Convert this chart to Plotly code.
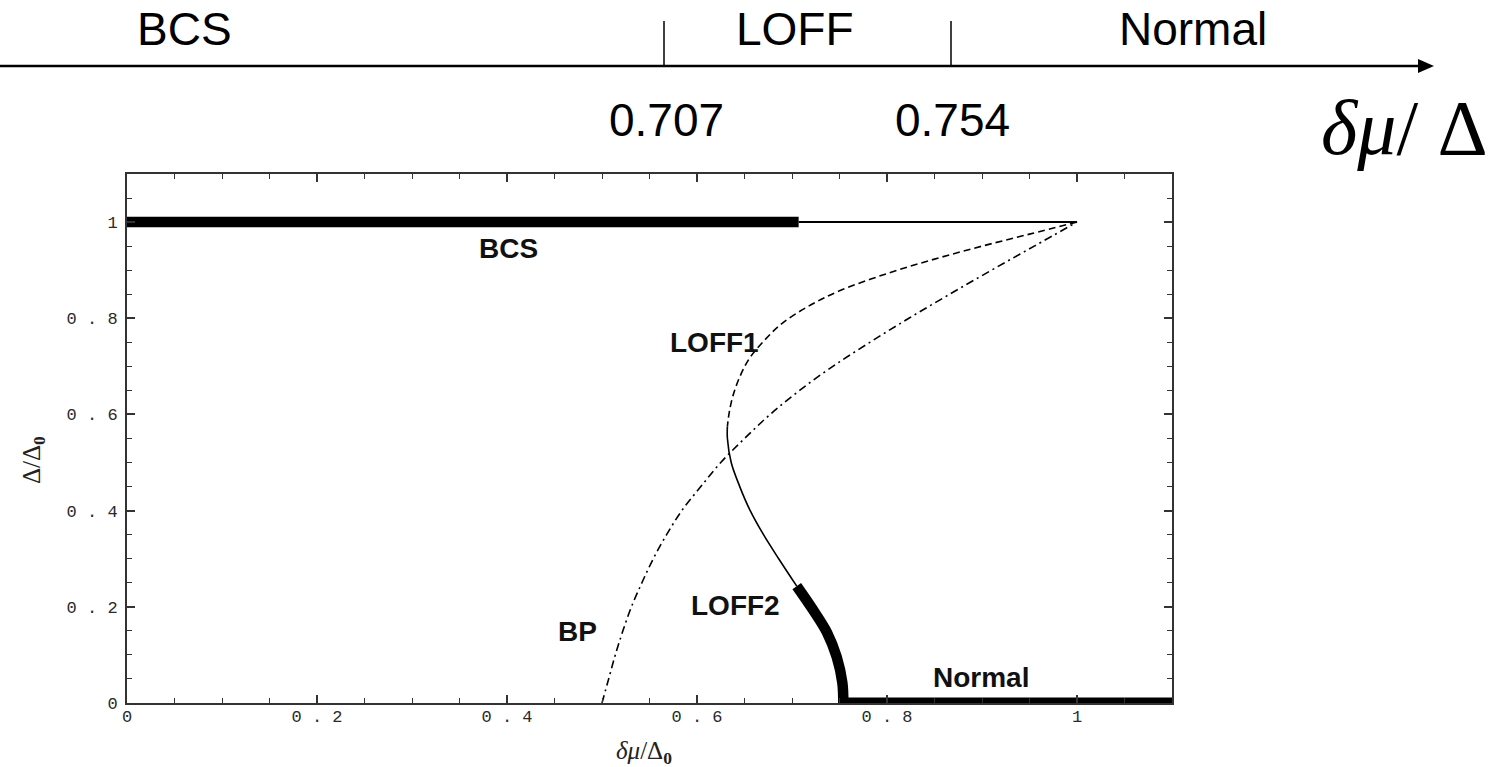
import plotly.graph_objects as go

# ---------------- data ----------------
bcs_stable_x = [0.0, 0.707]
bcs_stable_y = [1.0, 1.0]
bcs_unstable_x = [0.707, 1.0]
bcs_unstable_y = [1.0, 1.0]

loff1_x = [1.0, 0.95, 0.90, 0.85, 0.80, 0.75, 0.72, 0.69, 0.67, 0.655, 0.645, 0.638, 0.634, 0.632]
loff1_y = [1.0, 0.975, 0.950, 0.923, 0.893, 0.857, 0.828, 0.790, 0.752, 0.716, 0.678, 0.640, 0.605, 0.575]

loff2_unstable_x = [0.632, 0.632, 0.636, 0.645, 0.656, 0.670, 0.686, 0.705]
loff2_unstable_y = [0.575, 0.550, 0.500, 0.450, 0.400, 0.350, 0.300, 0.243]
loff2_stable_x = [0.705, 0.722, 0.737, 0.747, 0.753, 0.754]
loff2_stable_y = [0.243, 0.194, 0.146, 0.096, 0.042, 0.0]

bp_x = [0.500, 0.507, 0.514, 0.522, 0.531, 0.542, 0.554, 0.568, 0.584, 0.604, 0.625,
        0.650, 0.677, 0.708, 0.743, 0.782, 0.823, 0.866, 0.910, 0.955, 1.0]
bp_y = [0.00, 0.05, 0.10, 0.15, 0.20, 0.25, 0.30, 0.35, 0.40, 0.45, 0.50,
        0.55, 0.60, 0.65, 0.70, 0.75, 0.80, 0.85, 0.90, 0.95, 1.0]

normal_x = [0.754, 1.1]
normal_y = [0.0, 0.0]

curve_labels = ["BCS", "LOFF1", "LOFF2", "BP", "Normal"]
curve_label_x = [0.402, 0.618, 0.641, 0.474, 0.899]
curve_label_y = [0.946, 0.750, 0.202, 0.148, 0.052]

tick_vals = [0, 0.2, 0.4, 0.6, 0.8, 1.0]
tick_text = ["0", "0 . 2", "0 . 4", "0 . 6", "0 . 8", "1"]

# schematic phase line at the top
phase_names = ["BCS", "LOFF", "Normal"]
phase_bounds = ["0.707", "0.754"]

# ---------------- figure ----------------
W, H = 1499, 767
L, R, T, B = 127, 327, 174, 64
PW, PH = W - L - R, H - T - B


def px(xp):
    return (xp - L) / PW


def py(yp):
    return (H - B - yp) / PH


fig = go.Figure()


def add_line(x, y, width, dash="solid"):
    fig.add_trace(go.Scatter(x=x, y=y, mode="lines", showlegend=False, hoverinfo="skip",
                             line=dict(color="black", width=width, dash=dash,
                                       shape="spline", smoothing=1.0)))


add_line(bcs_unstable_x, bcs_unstable_y, 2)
add_line(bcs_stable_x, bcs_stable_y, 10.5)
add_line(loff1_x, loff1_y, 1.6, "7px,4px")
add_line(bp_x, bp_y, 1.6, "8px,4px,2px,4px")
add_line(loff2_unstable_x, loff2_unstable_y, 1.6)
add_line(loff2_stable_x, loff2_stable_y, 10.5)
add_line(normal_x, normal_y, 11)

for t, xv, yv in zip(curve_labels, curve_label_x, curve_label_y):
    fig.add_annotation(x=xv, y=yv, xref="x", yref="y", text=f"<b>{t}</b>", showarrow=False,
                       xanchor="center", yanchor="middle",
                       font=dict(family="Liberation Sans, Arial", size=28, color="#111"))

# axis titles
fig.add_annotation(x=px(644), y=py(752), xref="paper", yref="paper", showarrow=False,
                   xanchor="center", yanchor="middle",
                   text="<i>δμ</i>/Δ<sub><b>0</b></sub>",
                   font=dict(family="Liberation Serif, Times New Roman", size=25, color="#222"))
fig.add_annotation(x=px(33), y=py(460), xref="paper", yref="paper", showarrow=False, textangle=-90,
                   xanchor="center", yanchor="middle",
                   text="Δ/Δ<sub><b>0</b></sub>",
                   font=dict(family="Liberation Serif, Times New Roman", size=25, color="#222"))

# top schematic arrow
arrow_y = py(66)
fig.add_shape(type="line", xref="paper", yref="paper", x0=px(0), x1=px(1422), y0=arrow_y, y1=arrow_y,
              line=dict(color="black", width=2.5))
fig.add_shape(type="path", xref="paper", yref="paper", fillcolor="black", line=dict(width=0),
              path=f"M {px(1418)} {py(59)} L {px(1434)} {py(66)} L {px(1418)} {py(73)} Z")
for xb in (664, 951):
    fig.add_shape(type="line", xref="paper", yref="paper", x0=px(xb), x1=px(xb), y0=py(21), y1=arrow_y,
                  line=dict(color="black", width=1.5))

top_font = dict(family="Liberation Sans, Arial", size=46, color="black")
for name, xc in zip(phase_names, (184, 795, 1193)):
    fig.add_annotation(x=px(xc), y=py(29), xref="paper", yref="paper", text=name, showarrow=False,
                       xanchor="center", yanchor="middle", font=top_font)
for val, xc in zip(phase_bounds, (666, 952)):
    fig.add_annotation(x=px(xc), y=py(120), xref="paper", yref="paper", text=val, showarrow=False,
                       xanchor="center", yanchor="middle", font=top_font)
fig.add_annotation(x=px(1490), y=py(127), xref="paper", yref="paper", xanchor="right", yanchor="middle",
                   showarrow=False, text="<i>δμ</i>/\u00a0Δ",
                   font=dict(family="Liberation Serif, Times New Roman", size=78, color="black"))

axis_common = dict(
    showgrid=False, zeroline=False, showline=True, linecolor="#333", linewidth=2,
    mirror="ticks", ticks="inside", ticklen=8, tickwidth=1.5, tickcolor="#333",
    tickfont=dict(family="Liberation Mono, Courier New", size=17, color="#2a2a2a"),
    minor=dict(ticks="inside", ticklen=5, tickwidth=1.2, tickcolor="#333", dtick=0.05, tick0=0),
    tickmode="array", tickvals=tick_vals, ticktext=tick_text,
)
fig.update_xaxes(range=[0, 1.1], ticklabelstandoff=-3, **axis_common)
fig.update_yaxes(range=[0, 1.1], ticklabelstandoff=4, **axis_common)

fig.update_layout(
    width=W, height=H, margin=dict(l=L, r=R, t=T, b=B, autoexpand=False),
    plot_bgcolor="white", paper_bgcolor="white", showlegend=False,
)

fig.write_html("out.html", config={"displayModeBar": False},
               post_script="document.body.style.margin='0';document.body.style.overflow='hidden';")
